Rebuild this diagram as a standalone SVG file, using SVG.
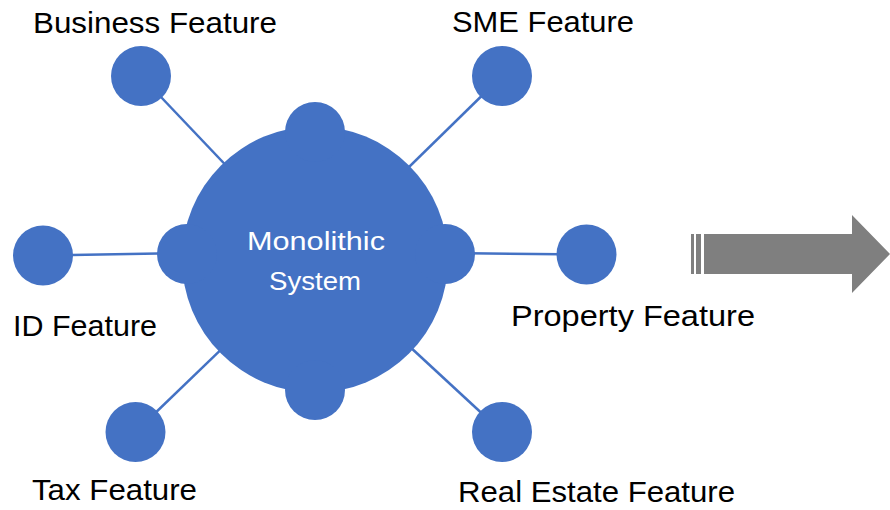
<svg xmlns="http://www.w3.org/2000/svg" width="890" height="510" viewBox="0 0 890 510">
<style>
.node{fill:#4472C4}
.conn{stroke:#4472C4;stroke-width:2.5;fill:none}
.lbl{font-family:"Liberation Sans",Arial,sans-serif;font-size:29px;fill:#000}
.inner{font-family:"Liberation Sans",Arial,sans-serif;font-size:25px;fill:#fff}
.arrow{fill:#7F7F7F}
</style>
<rect width="890" height="510" fill="#fff"/>
<g id="connectors">
<line class="conn" x1="141" y1="76" x2="315" y2="259"/>
<line class="conn" x1="502" y1="76" x2="315" y2="259"/>
<line class="conn" x1="43" y1="255.5" x2="187" y2="253"/>
<line class="conn" x1="586.5" y1="254.5" x2="445" y2="253"/>
<line class="conn" x1="135.5" y1="432" x2="315" y2="259"/>
<line class="conn" x1="502" y1="432" x2="315" y2="259"/>
</g>
<g id="monolithic">
<circle class="node" cx="315" cy="259.5" r="133"/>
<circle class="node" cx="315" cy="132" r="30"/>
<circle class="node" cx="315" cy="390" r="30"/>
<circle class="node" cx="187" cy="254" r="30"/>
<circle class="node" cx="445" cy="254" r="30"/>
<text class="inner" x="316" y="250" text-anchor="middle" textLength="138" lengthAdjust="spacingAndGlyphs">Monolithic</text>
<text class="inner" x="315" y="290" text-anchor="middle" textLength="92" lengthAdjust="spacingAndGlyphs">System</text>
</g>
<g id="business">
<circle class="node" cx="141" cy="76" r="30"/>
<text class="lbl" x="33" y="33" textLength="244" lengthAdjust="spacingAndGlyphs">Business Feature</text>
</g>
<g id="sme">
<circle class="node" cx="502" cy="76" r="30"/>
<text class="lbl" x="452" y="32" textLength="182" lengthAdjust="spacingAndGlyphs">SME Feature</text>
</g>
<g id="id">
<circle class="node" cx="43" cy="255.5" r="30"/>
<text class="lbl" x="13" y="336" textLength="144" lengthAdjust="spacingAndGlyphs">ID Feature</text>
</g>
<g id="property">
<circle class="node" cx="586.5" cy="254.5" r="30"/>
<text class="lbl" x="511" y="326" textLength="244" lengthAdjust="spacingAndGlyphs">Property Feature</text>
</g>
<g id="tax">
<circle class="node" cx="135.5" cy="432" r="30"/>
<text class="lbl" x="32" y="500" textLength="165" lengthAdjust="spacingAndGlyphs">Tax Feature</text>
</g>
<g id="realestate">
<circle class="node" cx="502" cy="432" r="30"/>
<text class="lbl" x="458" y="502" textLength="277" lengthAdjust="spacingAndGlyphs">Real Estate Feature</text>
</g>
<g id="arrow">
<rect class="arrow" x="691" y="234" width="3" height="40"/>
<rect class="arrow" x="696" y="234" width="5" height="40"/>
<polygon class="arrow" points="704,234 852,234 852,215 890,254 852,293 852,274 704,274"/>
</g>
</svg>
